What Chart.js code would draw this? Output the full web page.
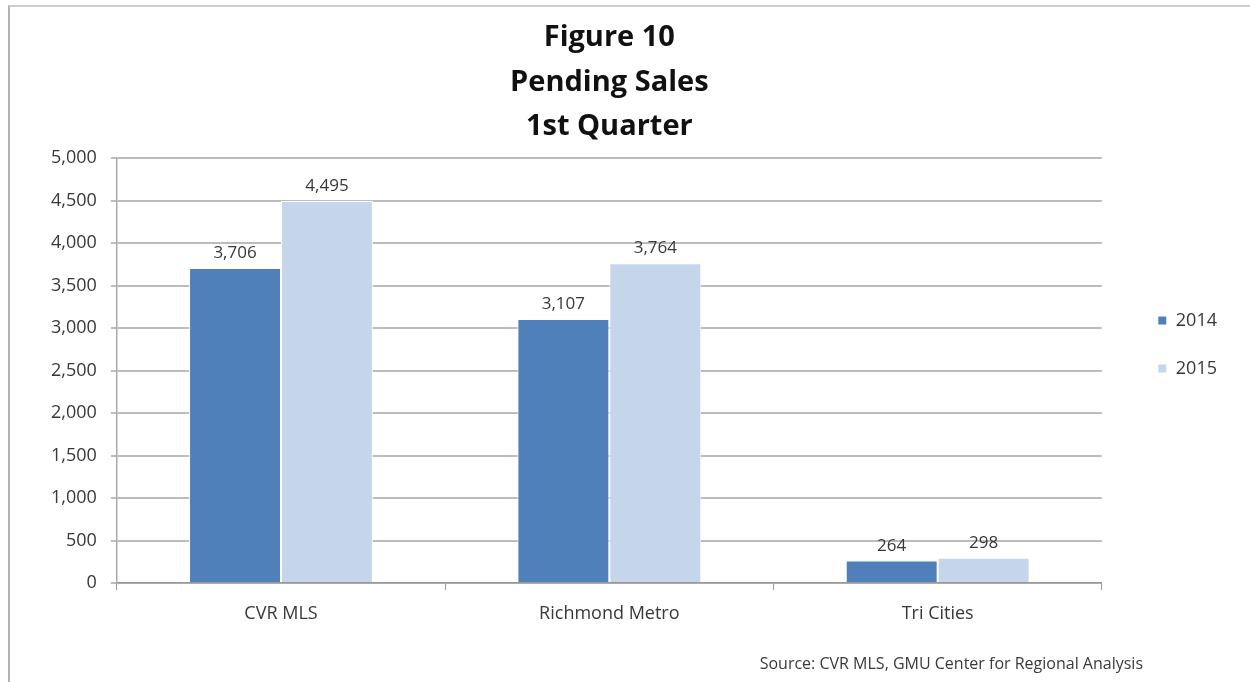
<!DOCTYPE html>
<html>
<head>
<meta charset="utf-8">
<script src="https://cdn.jsdelivr.net/npm/chart.js@4.4.0/dist/chart.umd.min.js"></script>
<style>
    body { margin: 0; background: #fff; }
    #page { position: relative; width: 1250px; height: 682px; overflow: hidden; }
    #frame {
        position: absolute; left: 8px; top: 5px; width: 1242px; height: 677px;
        border-top: 2px solid #cdcdcd; border-left: 2px solid #b3b3b3; box-sizing: border-box;
    }
    #box { position: absolute; left: 10px; top: 7px; width: 1240px; height: 675px; }
    #source {
        position: absolute; right: 107px; top: 652px;
        font-family: "Open Sans", sans-serif; font-size: 16px; color: #3a3a3a;
    }
</style>
</head>
<body>
<div id="page">
    <div id="frame"></div>
    <div id="box"><canvas id="chartPending"></canvas></div>
    <div id="source">Source: CVR MLS, GMU Center for Regional Analysis</div>
</div>
<script>
const categories = ["CVR MLS", "Richmond Metro", "Tri Cities"];
const years = ["2014", "2015"];
const sales2014 = [3706, 3107, 264];
const sales2015 = [4495, 3764, 298];
const yMax = 5000;
const yStep = 500;
const titleLines = ["Figure 10", "Pending Sales", "1st Quarter"];

const FONT = "'Open Sans', sans-serif";
const TEXT = "#383838";

// draws the value above every bar
const barLabels = {
    id: "barLabels",
    afterDatasetsDraw(chart) {
        const ctx = chart.ctx;
        ctx.save();
        ctx.font = "17px " + FONT;
        ctx.fillStyle = TEXT;
        ctx.textAlign = "center";
        ctx.textBaseline = "bottom";
        chart.data.datasets.forEach((ds, i) => {
            chart.getDatasetMeta(i).data.forEach((bar, j) => {
                ctx.fillText(ds.data[j].toLocaleString("en-US"), bar.x, bar.y - 6);
            });
        });
        ctx.restore();
    }
};

new Chart(document.getElementById("chartPending"), {
    type: "bar",
    data: {
        labels: categories,
        datasets: [
            { label: years[0], data: sales2014, backgroundColor: "#4f80b9", borderColor: "#ffffff", borderWidth: 1 },
            { label: years[1], data: sales2015, backgroundColor: "#c5d6eb", borderColor: "#ffffff", borderWidth: 1 }
        ]
    },
    options: {
        responsive: true,
        maintainAspectRatio: false,
        animation: false,
        datasets: { bar: { categoryPercentage: 0.56, barPercentage: 1 } },
        layout: { padding: { left: 27, right: 23, top: 0, bottom: 0 } },
        plugins: {
            title: {
                display: true,
                text: titleLines,
                fullSize: false,
                color: "#111",
                font: { family: FONT, size: 29, weight: "bold", lineHeight: 1.53 },
                padding: { top: 9, bottom: 9 }
            },
            legend: {
                position: "right",
                labels: {
                    boxWidth: 9, boxHeight: 9, padding: 30,
                    color: TEXT, font: { family: FONT, size: 18 }
                }
            },
            tooltip: { enabled: false }
        },
        scales: {
            x: {
                grid: { drawOnChartArea: false, drawTicks: true, tickLength: 7, color: "#999", offset: true },
                border: { display: true, color: "#999", width: 1.5 },
                ticks: { color: TEXT, font: { family: FONT, size: 18 }, padding: 13 },
                afterFit: (s) => { s.height = 99; }
            },
            y: {
                min: 0, max: yMax,
                grid: { color: "#bcbcbc", lineWidth: 2, tickLength: 6 },
                border: { display: true, color: "#aaa", width: 1.5 },
                ticks: {
                    stepSize: yStep, padding: 14, color: TEXT,
                    font: { family: FONT, size: 18 },
                    callback: (v) => v.toLocaleString("en-US")
                }
            },
            gap: {
                type: "linear", position: "right", display: true,
                grid: { display: false, drawTicks: false },
                border: { display: false },
                ticks: { display: false },
                afterFit: (s) => { s.width = 26; }
            }
        }
    },
    plugins: [barLabels]
});
</script>
</body>
</html>
